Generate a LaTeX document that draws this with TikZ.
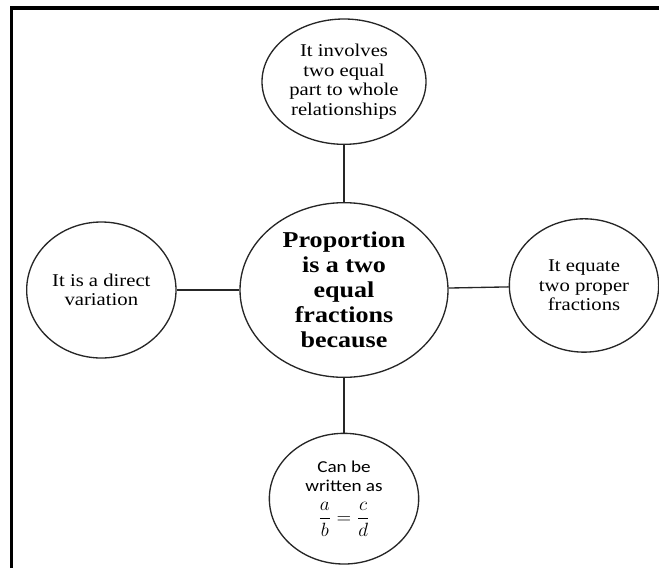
\documentclass[tikz,border=0pt]{standalone}
\usepackage{fontspec}
\setmainfont{Liberation Serif}[FakeStretch=1.15]
\newfontfamily\calibrifont{Carlito}[FakeStretch=1.15]
\usepackage{amsmath}
\usetikzlibrary{shapes.geometric, positioning}

\begin{document}
\begin{tikzpicture}[
  hub/.style={ellipse, draw=black!85, line width=1pt, inner sep=0pt,
              minimum width=156pt, minimum height=131pt, align=center,
              font=\fontsize{17}{18.75}\selectfont\bfseries},
  spoke/.style={ellipse, draw=black!85, line width=1pt, inner sep=0pt,
                minimum width=112pt, minimum height=100pt, align=center,
                font=\fontsize{13.5}{14.6}\selectfont},
  link/.style={line width=1pt, black!85}
]
\useasboundingbox (0,0) rectangle (494.25pt,-426pt);
% frame, cut at the right and bottom
\draw[line width=2.4pt] (8.8pt,-426pt) -- (8.8pt,-6pt) -- (494.25pt,-6pt);
\node[hub] (center) at (258pt,-217.5pt) {Proportion\\is a two\\equal\\fractions\\because};
\node[spoke, above=42.75pt of center, minimum width=123pt, minimum height=94pt] (parts)  {It involves\\two equal\\part to whole\\relationships};
\node[spoke, left=47pt of center, minimum height=102pt]              (direct) {It is a direct\\variation};
\node[spoke, right=45pt of center, yshift=3.4pt]                      (equate) {It equate\\two proper\\fractions};
\node[spoke, below=41pt of center, minimum height=98pt,
      font=\calibrifont\fontsize{12.5}{13.75}\selectfont]             (written) {Can be\\written as\\[7pt]\fontsize{14}{14}\selectfont$\dfrac{a}{b}=\dfrac{c}{d}$};
\draw[link] (center)--(parts); \draw[link] (center)--(direct);
\draw[link] (center)--(equate); \draw[link] (center)--(written);
\end{tikzpicture}
\end{document}
